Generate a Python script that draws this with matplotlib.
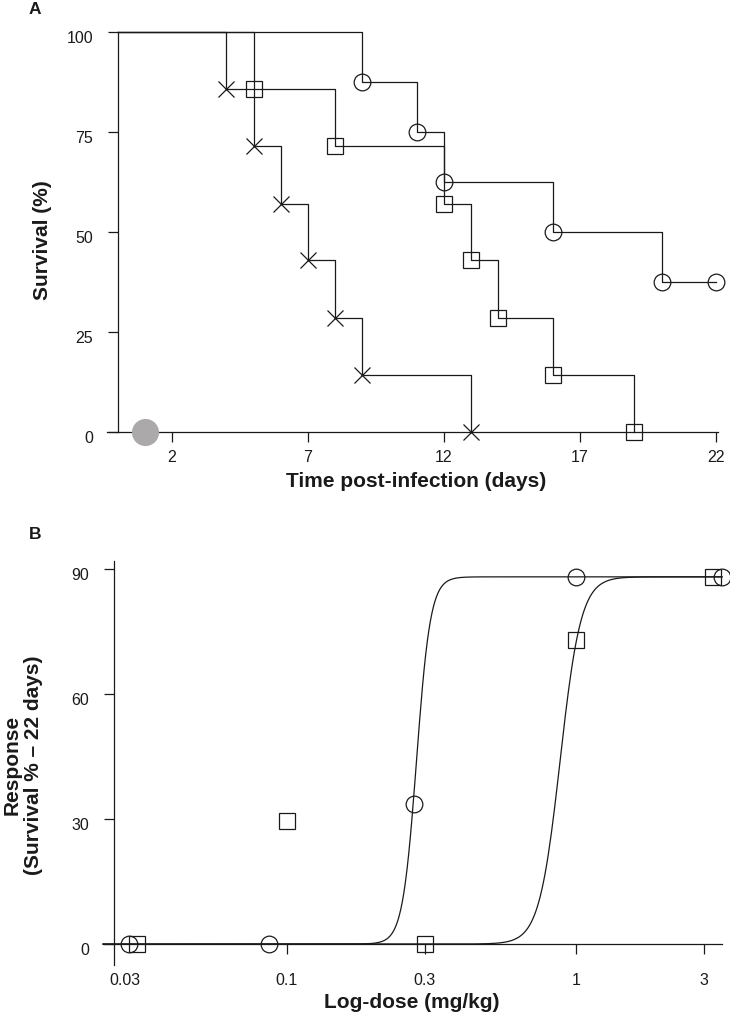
import numpy as np
import matplotlib
matplotlib.use('Agg')
import matplotlib.pyplot as plt
from matplotlib.transforms import ScaledTranslation
from matplotlib.ticker import NullLocator

plt.rcParams['font.family'] = ['Liberation Sans', 'DejaVu Sans']

# ---------------- Panel A: Kaplan-Meier survival ----------------
circ_days = [0, 9, 11, 12, 16, 20, 22]
circ_surv = [100, 87.5, 75, 62.5, 50, 37.5, 37.5]
sq_days = [0, 5, 8, 12, 13, 14, 16, 19]
sq_surv = [100, 85.7, 71.4, 57.1, 42.9, 28.6, 14.3, 0]
x_days = [0, 4, 5, 6, 7, 8, 9, 13]
x_surv = [100, 85.7, 71.4, 57.1, 42.9, 28.6, 14.3, 0]
ctrl_day = [1]
ctrl_surv = [0]
a_xticks = [2, 7, 12, 17, 22]
a_yticks = [0, 25, 50, 75, 100]

# ---------------- Panel B: dose-response ----------------
b_circ_dose = [0.0283, 0.087, 0.276, 1.0, 3.2]
b_circ_resp = [0, 0, 33.6, 88, 88]
b_sq_dose = [0.0302, 0.1, 0.3, 1.0, 2.98]
b_sq_resp = [0, 29.6, 0, 72.9, 88]
fit_top = [88, 88]
fit_ec50 = [0.281, 0.883]
fit_hill = [18, 12]
b_xtick_pos = [0.0275, 0.1, 0.3, 1, 2.77]
b_xtick_lab = ['0.03', '0.1', '0.3', '1', '3']
b_yticks = [0, 30, 60, 90]

K = '#1a1a1a'
LW = 0.9
W, H = 730, 1013

fig = plt.figure(figsize=(W / 100, H / 100), dpi=100)

def off_y(ax, px):
    for lab in ax.get_yticklabels():
        lab.set_transform(lab.get_transform() + ScaledTranslation(0, -px / 100, fig.dpi_scale_trans))

# ---- Panel A ----
axA = fig.add_axes([107 / W, 1 - 432 / H, 611 / W, 400 / H])
axA.set_xlim(-0.39, 22.07)
axA.set_ylim(0, 100)
for s in ['top', 'right']:
    axA.spines[s].set_visible(False)
axA.spines['left'].set_position(('data', 0))
for s in ['left', 'bottom']:
    axA.spines[s].set_linewidth(LW)
    axA.spines[s].set_color(K)
axA.set_xticks(a_xticks)
axA.set_yticks(a_yticks)
axA.tick_params(axis='both', direction='out', length=7.2, width=LW, color=K,
                labelsize=11.5, labelcolor=K)
axA.tick_params(axis='x', pad=5.5)
axA.tick_params(axis='y', pad=10.5)
off_y(axA, 5)

axA.step(circ_days, circ_surv, where='post', color=K, lw=LW, clip_on=False)
axA.step(sq_days, sq_surv, where='post', color=K, lw=LW, clip_on=False)
axA.step(x_days, x_surv, where='post', color=K, lw=LW, clip_on=False)
axA.plot(circ_days[1:], circ_surv[1:], 'o', ms=12, mfc='none', mec=K, mew=LW, clip_on=False)
axA.plot(sq_days[1:], sq_surv[1:], 's', ms=11, mfc='none', mec=K, mew=LW, clip_on=False)
axA.plot(x_days[1:], x_surv[1:], 'x', ms=11.5, mec=K, mew=LW, clip_on=False)
axA.plot(ctrl_day, ctrl_surv, 'o', ms=19.5, color='#aba9a9', mec='none', clip_on=False, zorder=4)

fig.text(35 / W, 1 - 10 / H, 'A', ha='center', va='center', fontsize=12.5, fontweight='bold', color=K)
fig.text(416 / W, 1 - 487 / H, 'Time post-infection (days)', ha='center', va='baseline',
         fontsize=15, fontweight='bold', color=K)
fig.text(42 / W, 1 - 240 / H, 'Survival (%)', ha='center', va='center', rotation=90,
         fontsize=15, fontweight='bold', color=K)

# ---- Panel B ----
axB = fig.add_axes([103 / W, 1 - 965 / H, 619 / W, 404 / H])
axB.set_xscale('log')
axB.set_xlim(0.02307, 3.21)
axB.set_ylim(-5.03, 91.8)
for s in ['top', 'right']:
    axB.spines[s].set_visible(False)
axB.spines['left'].set_position(('data', 0.0251))
axB.spines['bottom'].set_position(('data', 0))
for s in ['left', 'bottom']:
    axB.spines[s].set_linewidth(LW)
    axB.spines[s].set_color(K)
axB.set_xticks(b_xtick_pos)
axB.set_xticklabels(b_xtick_lab)
axB.xaxis.set_minor_locator(NullLocator())
axB.set_yticks(b_yticks)
axB.tick_params(axis='both', direction='out', length=7.2, width=LW, color=K,
                labelsize=11.5, labelcolor=K)
axB.tick_params(axis='x', pad=13.5)
axB.tick_params(axis='y', pad=10.5)
axB.xaxis.get_major_ticks()[0].tick1line.set_visible(False)
off_y(axB, 5)

xs = np.logspace(np.log10(0.02307), np.log10(3.21), 400)
for top, ec, n in zip(fit_top, fit_ec50, fit_hill):
    ys = top * xs ** n / (xs ** n + ec ** n)
    axB.plot(xs, ys, color=K, lw=LW, clip_on=False)
axB.plot(b_circ_dose, b_circ_resp, 'o', ms=12, mfc='none', mec=K, mew=LW, clip_on=False, zorder=4)
axB.plot(b_sq_dose, b_sq_resp, 's', ms=11, mfc='none', mec=K, mew=LW, clip_on=False, zorder=4)

fig.text(35 / W, 1 - 534 / H, 'B', ha='center', va='center', fontsize=12.5, fontweight='bold', color=K)
fig.text(412 / W, 1 - 1008 / H, 'Log-dose (mg/kg)', ha='center', va='baseline',
         fontsize=15, fontweight='bold', color=K)
fig.text(23 / W, 1 - 765 / H, 'Response\n(Survival % \u2013 22 days)', ha='center', va='center',
         rotation=90, multialignment='center', linespacing=1.2,
         fontsize=15, fontweight='bold', color=K)

fig.savefig('out.png', dpi=100)
